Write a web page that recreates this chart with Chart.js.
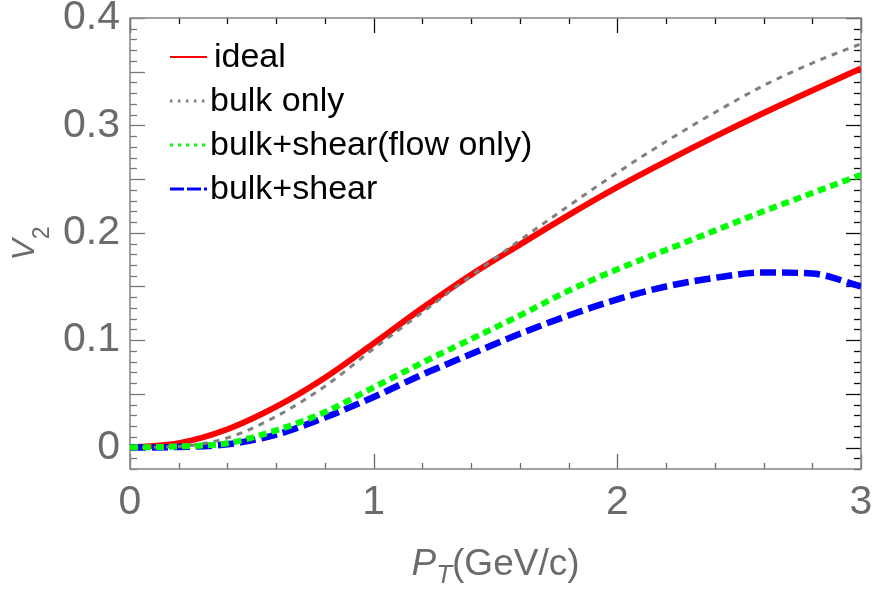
<!DOCTYPE html>
<html>
<head>
<meta charset="utf-8">
<script src="https://cdn.jsdelivr.net/npm/chart.js@4.4.1/dist/chart.umd.min.js"></script>
<style>
html,body{margin:0;padding:0;background:#fff;}
#wrap{width:873px;height:592px;position:relative;}
</style>
</head>
<body>
<div id="wrap"><canvas id="v2"></canvas></div>
<script>
// pT grid in GeV/c, v2 for each hydro setup
const pT              = [0, 0.2, 0.4, 0.6, 0.8, 1.0, 1.2, 1.4, 1.6, 1.8, 2.0, 2.2, 2.4, 2.6, 2.8, 3.0];
const v2Ideal         = [0, 0.004, 0.017, 0.038, 0.065, 0.097, 0.130, 0.161, 0.189, 0.2165, 0.2425, 0.2665, 0.2895, 0.3115, 0.3325, 0.353];
const v2Bulk          = [0, 0.001, 0.009, 0.029, 0.057, 0.092, 0.126, 0.160, 0.193, 0.225, 0.256, 0.285, 0.312, 0.337, 0.358, 0.376];
const v2BulkShearFlow = [0, 0.001, 0.004, 0.016, 0.033, 0.056, 0.079, 0.101, 0.123, 0.146, 0.166, 0.184, 0.202, 0.220, 0.237, 0.254];
const v2BulkShear     = [0, 0.0005, 0.003, 0.012, 0.028, 0.047, 0.068, 0.087, 0.106, 0.123, 0.138, 0.150, 0.158, 0.163, 0.162, 0.150];
const seriesNames = ['ideal', 'bulk only', 'bulk+shear(flow only)', 'bulk+shear'];
const xTicks = [0, 1, 2, 3];
const yTicks = [0, 0.1, 0.2, 0.3, 0.4];

const FONT = "'Liberation Sans', Arial, sans-serif";
const GREY = '#6b6b6b';
const pts = arr => pT.map((x, i) => ({x, y: arr[i]}));

// curves; legendDash/legendWidth are only used by the in-plot legend
const datasets = [
  {label: seriesNames[0], data: pts(v2Ideal), borderColor: '#ff0000', borderWidth: 6,
   order: 3, legendDash: [], legendWidth: 2},
  {label: seriesNames[1], data: pts(v2Bulk), borderColor: '#808080', borderWidth: 3,
   borderDash: [6, 6], order: 1, legendDash: [2.5, 5.5], legendWidth: 3},
  {label: seriesNames[2], data: pts(v2BulkShearFlow), borderColor: '#00ff00', borderWidth: 6,
   borderDash: [8, 5], order: 0, legendDash: [3, 5], legendWidth: 3},
  {label: seriesNames[3], data: pts(v2BulkShear), borderColor: '#0000ff', borderWidth: 6.5,
   borderDash: [16, 6], order: 2, legendDash: [14, 3], legendWidth: 3},
].map(d => Object.assign({pointRadius: 0, fill: false, cubicInterpolationMode: 'monotone'}, d));

// inward ticks on all four sides plus the frame
const frameTicks = {
  id: 'frameTicks',
  beforeDatasetsDraw(chart) {
    const ctx = chart.ctx, {left, right, top, bottom} = chart.chartArea;
    const xs = chart.scales.x, ys = chart.scales.y;
    ctx.save();
    ctx.lineWidth = 1.3;
    const seg = (x1, y1, x2, y2, c) => {
      ctx.strokeStyle = c; ctx.beginPath(); ctx.moveTo(x1, y1); ctx.lineTo(x2, y2); ctx.stroke();
    };
    for (let k = -2; k <= 40; k++) {
      const py = Math.round(ys.getPixelForValue(k / 100)) + 0.5;
      const len = k % 5 === 0 ? 15 : 7;
      seg(left, py, left + len, py, '#777');
      seg(right - len, py, right, py, '#111');
    }
    for (let k = 0; k <= 15; k++) {
      const px = Math.round(xs.getPixelForValue(k * 0.2)) + 0.5;
      const len = k % 5 === 0 ? 15 : 6;
      seg(px, bottom, px, bottom - len, '#666');
      seg(px, top, px, top + len, '#111');
    }
    ctx.lineWidth = 1.6;
    ctx.strokeStyle = '#8a8a8a';
    ctx.strokeRect(left, top, right - left, bottom - top);
    ctx.restore();
  }
};

const plotLegend = {
  id: 'plotLegend',
  afterDatasetsDraw(chart) {
    const ctx = chart.ctx;
    ctx.save();
    ctx.font = '34px ' + FONT;
    ctx.textBaseline = 'alphabetic';
    chart.data.datasets.forEach((d, i) => {
      const base = 67 + i * 44;
      ctx.strokeStyle = d.borderColor;
      ctx.lineWidth = d.legendWidth;
      ctx.setLineDash(d.legendDash);
      ctx.beginPath(); ctx.moveTo(170, base - 10); ctx.lineTo(207, base - 10); ctx.stroke();
      ctx.setLineDash([]);
      ctx.fillStyle = '#000';
      ctx.fillText(d.label, i === 0 ? 214 : 210, base);
    });
    ctx.restore();
  }
};

// axis titles with subscripts
const axisTitles = {
  id: 'axisTitles',
  afterDraw(chart) {
    const ctx = chart.ctx, {left, right, top, bottom} = chart.chartArea;
    ctx.save();
    ctx.fillStyle = GREY;
    ctx.textBaseline = 'alphabetic';
    // P_T(GeV/c)
    const fMain = 'italic 37px ' + FONT, fSub = 'italic 26px ' + FONT, fRest = '37px ' + FONT;
    ctx.font = fMain; const wP = ctx.measureText('P').width;
    ctx.font = fSub;  const wT = ctx.measureText('T').width;
    ctx.font = fRest; const wR = ctx.measureText('(GeV/c)').width;
    let x = (left + right) / 2 - (wP + wT + wR) / 2;
    const yb = 575;
    ctx.font = fMain; ctx.fillText('P', x, yb); x += wP;
    ctx.font = fSub;  ctx.fillText('T', x, yb + 8); x += wT;
    ctx.font = fRest; ctx.fillText('(GeV/c)', x, yb);
    // V_2, rotated
    ctx.translate(34, (top + bottom) / 2);
    ctx.rotate(-Math.PI / 2);
    ctx.font = 'italic 32px ' + FONT; const wV = ctx.measureText('V').width;
    ctx.font = '23px ' + FONT; const w2 = ctx.measureText('2').width;
    const x0 = -(wV + w2) / 2;
    ctx.font = 'italic 32px ' + FONT; ctx.fillText('V', x0, 0);
    ctx.font = '23px ' + FONT; ctx.fillText('2', x0 + wV, 15);
    ctx.restore();
  }
};

new Chart(document.getElementById('v2'), {
  type: 'line',
  data: {datasets},
  plugins: [frameTicks, plotLegend, axisTitles],
  options: {
    responsive: true, maintainAspectRatio: false, animation: false,
    layout: {padding: {top: 18, right: 12, left: 0, bottom: 0}},
    plugins: {legend: {display: false}, tooltip: {enabled: false}},
    scales: {
      x: {type: 'linear', min: 0, max: 3,
        grid: {display: false, drawTicks: false}, border: {display: false},
        afterBuildTicks: s => { s.ticks = xTicks.map(v => ({value: v})); },
        afterFit: s => { s.height = 123; s.paddingLeft = 0; s.paddingRight = 0; },
        ticks: {color: GREY, font: {family: FONT, size: 41}, padding: 9, maxRotation: 0, autoSkip: false,
          callback: v => String(v)}},
      y: {type: 'linear', min: -0.02, max: 0.4,
        grid: {display: false, drawTicks: false}, border: {display: false},
        afterBuildTicks: s => { s.ticks = yTicks.map(v => ({value: v})); },
        afterFit: s => { s.width = 130; s.paddingTop = 0; s.paddingBottom = 0; },
        ticks: {color: GREY, font: {family: FONT, size: 41}, padding: 10, autoSkip: false,
          callback: v => String(v)}}
    }
  }
});
</script>
</body>
</html>
